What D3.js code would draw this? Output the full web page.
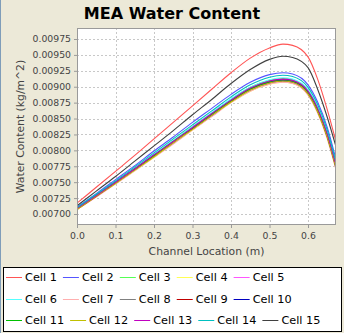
<!DOCTYPE html>
<html>
<head>
<meta charset="utf-8">
<script src="https://cdn.jsdelivr.net/npm/d3@7"></script>
<style>
  body { margin: 0; background: #ECE9D8; }
  svg { display: block; font-family: "DejaVu Sans", sans-serif; }
</style>
</head>
<body>
<svg id="chart" width="344" height="333"></svg>
<script>
// Channel positions (m)
var locations = [0, 0.05, 0.1, 0.15, 0.2, 0.25, 0.3, 0.35, 0.4, 0.45, 0.5, 0.535, 0.56, 0.6, 0.625, 0.65, 0.6725];

// Water content per cell (kg/m^2)
var cell1  = [0.00717, 0.00742, 0.00767, 0.00792, 0.00818, 0.00844, 0.00870, 0.00896, 0.00922, 0.00945, 0.00961, 0.00967, 0.00965, 0.00947, 0.00912, 0.00864, 0.00814];
var cell2  = [0.00711, 0.00732, 0.00754, 0.00776, 0.00799, 0.00821, 0.00844, 0.00866, 0.00888, 0.00907, 0.00919, 0.00922, 0.00920, 0.00903, 0.00876, 0.00836, 0.00786];
var cell3  = [0.00709, 0.00730, 0.00751, 0.00772, 0.00793, 0.00815, 0.00837, 0.00858, 0.00880, 0.00899, 0.00910, 0.00913, 0.00911, 0.00894, 0.00867, 0.00827, 0.00778];
var cell4  = [0.00707, 0.00727, 0.00748, 0.00768, 0.00789, 0.00811, 0.00832, 0.00854, 0.00875, 0.00893, 0.00904, 0.00907, 0.00905, 0.00887, 0.00859, 0.00819, 0.00771];
var cell5  = [0.00707, 0.00727, 0.00748, 0.00769, 0.00790, 0.00811, 0.00833, 0.00854, 0.00876, 0.00894, 0.00905, 0.00908, 0.00906, 0.00888, 0.00860, 0.00820, 0.00772];
var cell6  = [0.00709, 0.00730, 0.00751, 0.00772, 0.00794, 0.00815, 0.00837, 0.00859, 0.00881, 0.00899, 0.00911, 0.00914, 0.00912, 0.00895, 0.00868, 0.00828, 0.00779];
var cell7  = [0.00707, 0.00727, 0.00747, 0.00768, 0.00789, 0.00810, 0.00832, 0.00853, 0.00875, 0.00893, 0.00904, 0.00907, 0.00905, 0.00887, 0.00859, 0.00818, 0.00770];
var cell8  = [0.00708, 0.00728, 0.00749, 0.00770, 0.00791, 0.00812, 0.00834, 0.00855, 0.00877, 0.00895, 0.00906, 0.00909, 0.00907, 0.00889, 0.00862, 0.00821, 0.00773];
var cell9  = [0.00708, 0.00728, 0.00749, 0.00770, 0.00791, 0.00813, 0.00834, 0.00856, 0.00877, 0.00896, 0.00907, 0.00910, 0.00908, 0.00890, 0.00862, 0.00822, 0.00774];
var cell10 = [0.00708, 0.00729, 0.00749, 0.00770, 0.00792, 0.00813, 0.00835, 0.00856, 0.00878, 0.00896, 0.00907, 0.00910, 0.00908, 0.00891, 0.00863, 0.00823, 0.00775];
var cell11 = [0.00708, 0.00729, 0.00750, 0.00771, 0.00792, 0.00814, 0.00835, 0.00857, 0.00878, 0.00897, 0.00908, 0.00911, 0.00909, 0.00892, 0.00864, 0.00824, 0.00776];
var cell12 = [0.00707, 0.00728, 0.00748, 0.00769, 0.00790, 0.00812, 0.00833, 0.00855, 0.00876, 0.00895, 0.00906, 0.00909, 0.00907, 0.00889, 0.00861, 0.00821, 0.00773];
var cell13 = [0.00709, 0.00729, 0.00750, 0.00771, 0.00793, 0.00814, 0.00836, 0.00858, 0.00879, 0.00898, 0.00909, 0.00912, 0.00910, 0.00893, 0.00866, 0.00826, 0.00777];
var cell14 = [0.00710, 0.00731, 0.00752, 0.00774, 0.00796, 0.00818, 0.00840, 0.00862, 0.00884, 0.00903, 0.00915, 0.00918, 0.00916, 0.00899, 0.00872, 0.00832, 0.00782];
var cell15 = [0.00713, 0.00736, 0.00759, 0.00783, 0.00807, 0.00831, 0.00856, 0.00880, 0.00905, 0.00927, 0.00943, 0.00948, 0.00946, 0.00930, 0.00896, 0.00852, 0.00806];

var cellNames = ['Cell 1', 'Cell 2', 'Cell 3', 'Cell 4', 'Cell 5', 'Cell 6', 'Cell 7', 'Cell 8',
  'Cell 9', 'Cell 10', 'Cell 11', 'Cell 12', 'Cell 13', 'Cell 14', 'Cell 15'];
var cellValues = [cell1, cell2, cell3, cell4, cell5, cell6, cell7, cell8,
  cell9, cell10, cell11, cell12, cell13, cell14, cell15];
var cellColors = ['#FF5555', '#5555FF', '#55FF55', '#FFFF55', '#FF55FF', '#55FFFF', '#FFAFAF', '#808080',
  '#C00000', '#0000C0', '#00C000', '#C0C000', '#C000C0', '#00C0C0', '#404040'];

var xTicks = [0, 0.1, 0.2, 0.3, 0.4, 0.5, 0.6];
var yTicks = [0.00700, 0.00725, 0.00750, 0.00775, 0.00800, 0.00825, 0.00850, 0.00875,
  0.00900, 0.00925, 0.00950, 0.00975];

// Plot area inside the 344x333 window
var plot = {left: 77, top: 28, right: 336, bottom: 225};

var svg = d3.select('#chart');

// background and window edge
svg.append('rect').attr('width', 344).attr('height', 333).attr('fill', '#ECE9D8');
svg.append('rect').attr('x', 0).attr('y', 0).attr('width', 1).attr('height', 333).attr('fill', '#7F9DB9');

var x = d3.scaleLinear().domain([0, 0.6727]).range([plot.left, plot.right]);
var y = d3.scaleLinear().domain([0.006827, 0.009923]).range([plot.bottom, plot.top]);

// Title
svg.append('text')
  .attr('x', 172)
  .attr('y', 19)
  .attr('text-anchor', 'middle')
  .style('font-weight', 'bold')
  .style('font-size', '16px')
  .style('fill', '#000')
  .text('MEA Water Content');

// Plot background
svg.append('rect')
  .attr('x', plot.left).attr('y', plot.top)
  .attr('width', plot.right - plot.left).attr('height', plot.bottom - plot.top)
  .attr('fill', '#fff');

// Gridlines
svg.append('g').selectAll('line')
  .data(xTicks.slice(1)).enter().append('line')
  .attr('x1', function(d) { return Math.round(x(d)) + 0.5; }).attr('x2', function(d) { return Math.round(x(d)) + 0.5; })
  .attr('y1', plot.top).attr('y2', plot.bottom)
  .attr('stroke', '#C8C8C8').attr('stroke-width', 1).attr('stroke-dasharray', '2,2');

svg.append('g').selectAll('line')
  .data(yTicks).enter().append('line')
  .attr('x1', plot.left).attr('x2', plot.right)
  .attr('y1', function(d) { return Math.round(y(d)) + 0.5; }).attr('y2', function(d) { return Math.round(y(d)) + 0.5; })
  .attr('stroke', '#C8C8C8').attr('stroke-width', 1).attr('stroke-dasharray', '2,2');

svg.append('clipPath').attr('id', 'plotClip')
  .append('rect')
  .attr('x', plot.left).attr('y', plot.top)
  .attr('width', plot.right - plot.left).attr('height', plot.bottom - plot.top);

// Series lines
var line = d3.line()
  .x(function(d, i) { return x(locations[i]); })
  .y(function(d) { return y(d); })
  .curve(d3.curveMonotoneX);

svg.append('g')
  .attr('clip-path', 'url(#plotClip)')
  .selectAll('path')
  .data(cellValues).enter().append('path')
  .attr('d', line)
  .attr('fill', 'none')
  .attr('stroke', function(d, i) { return cellColors[i]; })
  .attr('stroke-width', 1.1);

// Plot outline
svg.append('rect')
  .attr('x', plot.left + 0.5).attr('y', plot.top + 0.5)
  .attr('width', plot.right - plot.left - 1).attr('height', plot.bottom - plot.top - 1)
  .attr('fill', 'none').attr('stroke', '#9A9A9A');

// Axes
var xAxis = d3.axisBottom(x).tickValues(xTicks).tickSize(3).tickPadding(4)
  .tickFormat(d3.format('.1f'));
var yAxis = d3.axisLeft(y).tickValues(yTicks).tickSize(3).tickPadding(3)
  .tickFormat(d3.format('.5f'));

var gx = svg.append('g').attr('transform', 'translate(0,' + plot.bottom + ')').call(xAxis);
var gy = svg.append('g').attr('transform', 'translate(' + plot.left + ',0)').call(yAxis);

[gx, gy].forEach(function(g) {
  g.select('.domain').remove();
  g.selectAll('line').attr('stroke', '#9A9A9A');
  g.selectAll('text').style('font-size', '9.3px').style('font-family', '"DejaVu Sans", sans-serif').attr('fill', '#444');
});

// Axis labels
svg.append('text')
  .attr('x', (plot.left + plot.right) / 2)
  .attr('y', 255)
  .attr('text-anchor', 'middle')
  .style('font-size', '10.8px')
  .style('fill', '#444')
  .text('Channel Location (m)');

svg.append('text')
  .attr('transform', 'translate(24,' + (plot.top + plot.bottom) / 2 + ') rotate(-90)')
  .attr('text-anchor', 'middle')
  .style('font-size', '10.8px')
  .style('fill', '#444')
  .text('Water Content (kg/m^2)');

// Legend
var legend = svg.append('g');
legend.append('rect')
  .attr('x', 3.5).attr('y', 267.5).attr('width', 338).attr('height', 64)
  .attr('fill', '#fff').attr('stroke', '#000');

var rowY = [277, 299, 320];
var perRow = 5;
var cursor = 6;
cellNames.forEach(function(name, i) {
  var row = Math.floor(i / perRow);
  if (i % perRow == 0) cursor = 6;
  var item = legend.append('g').attr('transform', 'translate(' + cursor + ',' + rowY[row] + ')');
  item.append('rect')
    .attr('x', 0).attr('y', 0).attr('width', 16).attr('height', 1)
    .attr('fill', cellColors[i]);
  var label = item.append('text')
    .attr('x', 19).attr('y', 4)
    .style('font-size', '11.3px')
    .style('fill', '#000')
    .text(name);
  cursor += 19 + label.node().getComputedTextLength() + 6;
});
</script>
</body>
</html>
